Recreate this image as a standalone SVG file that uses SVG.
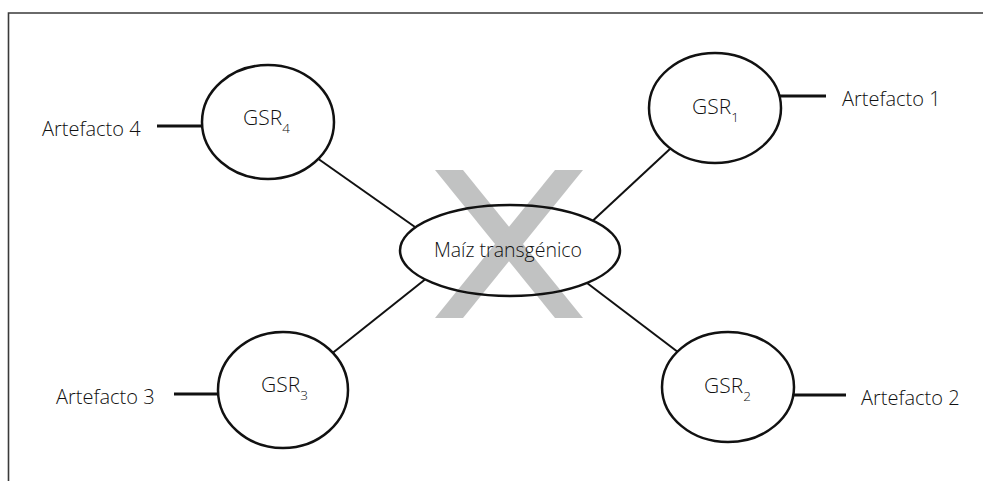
<svg xmlns="http://www.w3.org/2000/svg" width="983" height="481" viewBox="0 0 983 481">
<style>
text{font-family:"Open Sans","Noto Sans","Liberation Sans",sans-serif;font-weight:300;fill:#111;}
.lbl{font-size:20px;}
.gsr{font-size:21px;}
.sub{font-size:13.5px;}
.node{fill:#fff;stroke:#111;stroke-width:2.5;}
.conn{stroke:#111;stroke-width:2;fill:none;}
.art{stroke:#111;stroke-width:2.8;fill:none;}
</style>
<rect width="983" height="481" fill="#fff"/>
<path d="M8.5 481 V13 H983" fill="none" stroke="#3a3a3a" stroke-width="1.6"/>
<g id="cross">
<polygon points="435,170 463,170 583,318 555,318" fill="#c1c2c2"/>
<polygon points="555,170 583,170 463,318 435,318" fill="#c1c2c2"/>
</g>
<g id="connectors">
<line class="conn" x1="300" y1="146" x2="415" y2="227"/>
<line class="conn" x1="685" y1="135" x2="593" y2="220.5"/>
<line class="conn" x1="320" y1="363" x2="425" y2="279.5"/>
<line class="conn" x1="695" y1="365" x2="587" y2="283"/>
<line class="art" x1="157" y1="126" x2="203" y2="126"/>
<line class="art" x1="780" y1="96" x2="826" y2="96"/>
<line class="art" x1="174" y1="394" x2="220" y2="394"/>
<line class="art" x1="792" y1="395" x2="846" y2="395"/>
</g>
<g id="center">
<ellipse cx="510" cy="250.5" rx="110" ry="45.5" fill="none" stroke="#111" stroke-width="2.5"/>
<text class="lbl" x="508" y="257" text-anchor="middle" style="font-size:19.5px">Maíz transgénico</text>
</g>
<g id="gsr4">
<ellipse class="node" cx="268" cy="122" rx="66" ry="57"/>
<text class="gsr" x="243" y="125">GSR<tspan class="sub" dy="8">4</tspan></text>
</g>
<g id="gsr1">
<ellipse class="node" cx="715" cy="108" rx="66" ry="55"/>
<text class="gsr" x="692" y="114">GSR<tspan class="sub" dy="8">1</tspan></text>
</g>
<g id="gsr3">
<ellipse class="node" cx="283" cy="390" rx="65" ry="58"/>
<text class="gsr" x="261" y="392">GSR<tspan class="sub" dy="8">3</tspan></text>
</g>
<g id="gsr2">
<ellipse class="node" cx="728" cy="387" rx="66" ry="55"/>
<text class="gsr" x="704" y="393">GSR<tspan class="sub" dy="8">2</tspan></text>
</g>
<g id="art4"><text class="lbl" x="42" y="136">Artefacto 4</text></g>
<g id="art1"><text class="lbl" x="842" y="106">Artefacto 1</text></g>
<g id="art3"><text class="lbl" x="56" y="404">Artefacto 3</text></g>
<g id="art2"><text class="lbl" x="861" y="405">Artefacto 2</text></g>
</svg>
